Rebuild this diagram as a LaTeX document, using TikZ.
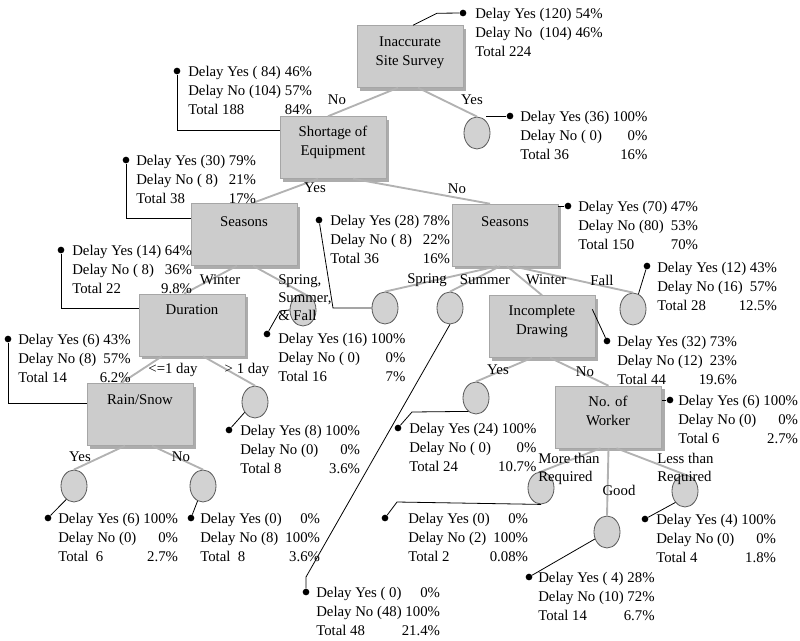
\documentclass[tikz,border=0pt]{standalone}
\usepackage{fontspec}
\setmainfont{Liberation Serif}
\usetikzlibrary{shapes.geometric,shadows,calc}
\newcommand{\tri}[6]{\begin{tabular}[t]{@{}l@{\ }r@{}}#1&#2\\#3&#4\\#5&\llap{#6}\end{tabular}}
\begin{document}
\begin{tikzpicture}[x=0.75pt, y=-0.75pt,
  every node/.style={font=\fontsize{11.1}{14.6}\selectfont},
  box/.style={rectangle, draw=gray!70, fill=gray!40, minimum width=79.5pt, minimum height=46.5pt, inner sep=0,
    drop shadow={shadow xshift=2.5pt, shadow yshift=-2.5pt, fill=gray!65, opacity=1}},
  btext/.style={inner sep=0, align=center, font=\fontsize{11.1}{14.3}\selectfont},
  leaf/.style={ellipse, draw=black!65, fill=gray!35, minimum width=19.5pt, minimum height=24pt, inner sep=0, line width=0.6pt},
  dot/.style={circle, fill=black, inner sep=0, minimum size=5pt},
  info/.style={anchor=base west, inner sep=0},
  branch/.style={draw=gray!60, line width=1.4pt},
  conn/.style={draw=black, line width=0.6pt},
  blabel/.style={inner sep=0},
  mlabel/.style={inner sep=0, anchor=north west, align=left, font=\fontsize{11.1}{13.8}\selectfont}]
\useasboundingbox (0,0) rectangle (800,640);

% ---- decision boxes
\node[box] (root)  at (410,56.5) {};
\node[box] (short) at (333,147.5) {};
\node[box] (seasL) at (244,234.5) {};
\node[box] (seasR) at (505,235) {};
\node[box] (dur)   at (192,325) {};
\node[box] (rain)  at (140,414.5) {};
\node[box] (inc)   at (542,326.5) {};
\node[box] (work)  at (608.5,417) {};

\node[btext] (troot)  at (410,52.5) {Inaccurate\\Site Survey};
\node[btext] (tshort) at (333,142.5) {Shortage of\\Equipment};
\node[btext] (tseasL) at (244,222) {Seasons};
\node[btext] (tseasR) at (505,222) {Seasons};
\node[btext] (tdur)   at (192,310) {Duration};
\node[btext] (train)  at (140,400) {Rain/Snow};
\node[btext] (tinc)   at (542,321) {Incomplete\\Drawing};
\node[btext] (twork)  at (608,411) {No. of\\Worker};

% ---- leaf circles
\node[leaf] (cy)   at (477,133) {};
\node[leaf] (cspL) at (303,310) {};
\node[leaf] (c1d)  at (255,402) {};
\node[leaf] (cry)  at (74,486) {};
\node[leaf] (crn)  at (203,486) {};
\node[leaf] (csp)  at (385,308) {};
\node[leaf] (csu)  at (450,308) {};
\node[leaf] (cfa)  at (633,309) {};
\node[leaf] (ciy)  at (476,398) {};
\node[leaf] (cmo)  at (541,488) {};
\node[leaf] (cgo)  at (607,532) {};
\node[leaf] (cle)  at (685,491) {};

% ---- branches
\draw[branch] ($(root.south)+(-12,0)$) -- ($(short.north)+(-5,0)$);
\draw[branch] ($(root.south)+(8,0)$) -- (cy.north);
\draw[branch] ($(short.south)+(-15,0)$) -- ($(seasL.north)+(8,0)$);
\draw[branch] ($(short.south)+(20,0)$) -- ($(seasR.north)+(-15,0)$);
\draw[branch] ($(seasL.south)+(-7,0)$) -- ($(dur.north)+(-8,0)$);
\draw[branch] ($(seasL.south)+(9,0)$) -- (cspL.north east);
\draw[branch] ($(seasR.south)+(-8,0)$) -- (csp.north);
\draw[branch] ($(seasR.south)+(-5,0)$) -- (csu.north);
\draw[branch] ($(seasR.south)+(2,0)$) -- (inc.north);
\draw[branch] ($(seasR.south)+(8,0)$) -- (cfa.north);
\draw[branch] ($(dur.south)+(-30,0)$) -- ($(rain.north)+(-19,0)$);
\draw[branch] ($(dur.south)+(11,0)$) -- (c1d.north);
\draw[branch] ($(rain.south)+(-15,0)$) -- (cry.north);
\draw[branch] ($(rain.south)+(12,0)$) -- (crn.north);
\draw[branch] ($(inc.south)+(-10,0)$) -- (ciy.north);
\draw[branch] ($(inc.south)+(8,0)$) -- (work.north);
\draw[branch] ($(work.south)+(-8,0)$) -- (cmo.north);
\draw[branch] (work.south) -- (cgo.north);
\draw[branch] ($(work.south)+(8,0)$) -- (cle.north);

% ---- dots
\node[dot] (droot) at (463,13) {};
\node[dot] (d36)   at (510,116) {};
\node[dot] (d84)   at (177,71) {};
\node[dot] (d30)   at (126,160) {};
\node[dot] (d70)   at (568,206) {};
\node[dot] (d28)   at (319,220) {};
\node[dot] (d14)   at (61,250) {};
\node[dot] (d12)   at (647,266) {};
\node[dot] (d16)   at (267,334) {};
\node[dot] (d6r)   at (8,339) {};
\node[dot] (d32)   at (607,341) {};
\node[dot] (d6w)   at (670,400) {};
\node[dot] (d24)   at (398,428) {};
\node[dot] (d8)    at (229,430) {};
\node[dot] (d6l)   at (48,518) {};
\node[dot] (d0)    at (191,518) {};
\node[dot] (d2)    at (385,518) {};
\node[dot] (d4)    at (645,519) {};
\node[dot] (d14g)  at (529,577) {};
\node[dot] (d48)   at (306,592) {};

% ---- info connectors
\draw[conn] ($(root.north)+(3,0)$) -- ++(24,-12) -- (droot);
\draw[conn] (d36 -| cy.north east) -- (d36);
\draw[conn] (d84) |- ($(short.west)+(0,-17)$);
\draw[conn] (d30) |- ($(seasL.west)+(0,-16)$);
\draw[conn] (d70 -| seasR.east) -- (d70);
\draw[conn] (d28) -- ++(14,88) -- (csp.west);
\draw[conn] (d16) -- ++(13,-23) -- (cspL.west);
\draw[conn] (d12) -- (cfa.70);
\draw[conn] (d14) |- ($(dur.west)+(0,-17)$);
\draw[conn] (d6r) |- ($(rain.west)+(0,-11)$);
\draw[conn] ($(inc.north east)+(-3,14)$) -- (d32);
\draw[conn] (d6w -| work.east) -- (d6w);
\draw[conn] (d24) -- ++(14,-16) -- (ciy.240);
\draw[conn] (d8) -- (c1d.225);
\draw[conn] (d6l) -- (cry.240);
\draw[conn] (d0) -- (crn.250);
\draw[conn] (d2) -- ++(12,-16) -- (cmo.south);
\draw[conn] (d14g) -- (cgo.210);
\draw[conn] (d4) -- (cle.230);
\draw[conn] (d48) -- ++(0,-15) -- (csu.south);

% ---- branch labels
\node[blabel] (lno1)  at (337,100) {No};
\node[blabel] (lyes1) at (472,100) {Yes};
\node[blabel] (lyes2) at (315,188) {Yes};
\node[blabel] (lno2)  at (457,189) {No};
\node[blabel] (lwin1) at (220,280) {Winter};
\node[mlabel] (lssf)  at (278,274) {Spring,\\Summer,\\\& Fall};
\node[blabel] (l1a)   at (173,370) {<=1 day};
\node[blabel] (l1b)   at (247,370) {> 1 day};
\node[blabel] (lyes3) at (80,457) {Yes};
\node[blabel] (lno3)  at (181,457) {No};
\node[blabel] (lsp)   at (427,280) {Spring};
\node[blabel] (lsu)   at (485,280) {Summer};
\node[blabel] (lwi)   at (546,280) {Winter};
\node[blabel] (lfa)   at (602,280) {Fall};
\node[blabel] (lyes4) at (498,370) {Yes};
\node[blabel] (lno4)  at (585,372) {No};
\node[mlabel] (lmore) at (538,453) {More than\\Required};
\node[mlabel] (lless) at (657,453) {Less than\\Required};
\node[blabel] (lgood) at (619,490) {Good};

% ---- info blocks
\node[info] (iroot) at (475,18)  {\tri{Delay Yes (120)}{54\%}{Delay No\ \ (104)}{46\%}{Total 224}{}};
\node[info] (i36)   at (520,121) {\tri{Delay Yes (36)}{100\%}{Delay No (\ 0)}{0\%}{Total 36}{16\%}};
\node[info] (i84)   at (188,76)  {\tri{Delay Yes (\ 84)}{46\%}{Delay No (104)}{57\%}{Total 188}{84\%}};
\node[info] (i30)   at (136,165) {\tri{Delay Yes (30)}{79\%}{Delay No (\ 8)}{21\%}{Total 38}{17\%}};
\node[info] (i70)   at (578,211) {\tri{Delay Yes (70)}{47\%}{Delay No (80)}{53\%}{Total 150}{70\%}};
\node[info] (i28)   at (330,225) {\tri{Delay Yes (28)}{78\%}{Delay No (\ 8)}{22\%}{Total 36}{16\%}};
\node[info] (i14)   at (72,255)  {\tri{Delay Yes (14)}{64\%}{Delay No (\ 8)}{36\%}{Total 22}{9.8\%}};
\node[info] (i12)   at (657,272) {\tri{Delay Yes (12)}{43\%}{Delay No (16)}{57\%}{Total 28}{12.5\%}};
\node[info] (i16)   at (278,343) {\tri{Delay Yes (16)}{100\%}{Delay No (\ 0)}{0\%}{Total 16}{7\%}};
\node[info] (i6r)   at (18,344)  {\tri{Delay Yes (6)}{43\%}{Delay No (8)}{57\%}{Total 14}{6.2\%}};
\node[info] (i32)   at (617,346) {\tri{Delay Yes (32)}{73\%}{Delay No (12)}{23\%}{Total 44}{19.6\%}};
\node[info] (i6w)   at (678,405) {\tri{Delay Yes (6)}{100\%}{Delay No (0)}{0\%}{Total 6}{2.7\%}};
\node[info] (i24)   at (409,433) {\tri{Delay Yes (24)}{100\%}{Delay No (\ 0)}{0\%}{Total 24}{10.7\%}};
\node[info] (i8)    at (240,435) {\tri{Delay Yes (8)}{100\%}{Delay No (0)}{0\%}{Total 8}{3.6\%}};
\node[info] (i6l)   at (58,523)  {\tri{Delay Yes (6)}{100\%}{Delay No (0)}{0\%}{Total\ \ 6}{2.7\%}};
\node[info] (i0)    at (200,523) {\tri{Delay Yes (0)}{0\%}{Delay No (8)}{100\%}{Total\ \ 8}{3.6\%}};
\node[info] (i2)    at (408,523) {\tri{Delay Yes (0)}{0\%}{Delay No (2)}{100\%}{Total 2}{0.08\%}};
\node[info] (i4)    at (656,524) {\tri{Delay Yes (4)}{100\%}{Delay No (0)}{0\%}{Total 4}{1.8\%}};
\node[info] (i14g)  at (538,582) {\tri{Delay Yes (\ 4)}{28\%}{Delay No (10)}{72\%}{Total 14}{6.7\%}};
\node[info] (i48)   at (316,597) {\tri{Delay Yes (\ 0)}{0\%}{Delay No (48)}{100\%}{Total 48}{21.4\%}};
\end{tikzpicture}
\end{document}
